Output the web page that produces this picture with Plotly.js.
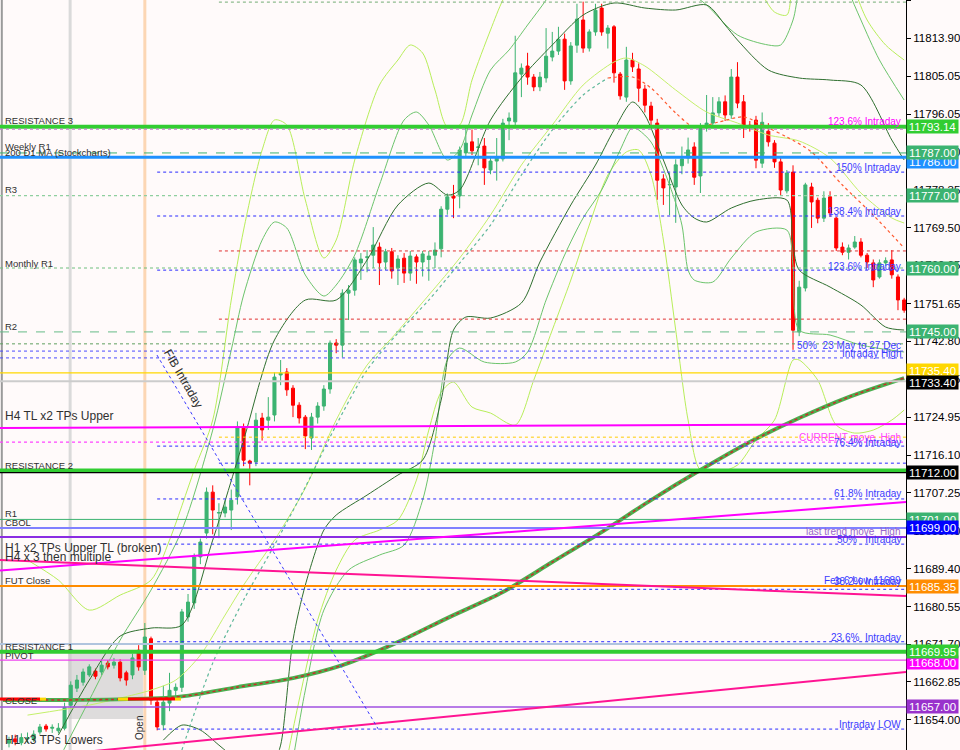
<!DOCTYPE html>
<html><head><meta charset="utf-8">
<script src="https://cdn.plot.ly/plotly-3.0.1.min.js"></script>
<style>html,body{margin:0;padding:0;background:#fffafa}#chart{width:960px;height:750px}</style>
</head><body><div id="chart"></div>
<script>
// ---------- candle data (bar index 2..147) ----------
const firstBar = 2;
const candleOpen = [11648.5,11649.5,11648.6,11649.5,11649.3,11651.1,11652.5,11652.0,11651.4,11652.0,11657.4,11661.4,11662.8,11664.5,11665.4,11665.2,11667.3,11666.8,11667.5,11665.0,11664.5,11670.3,11665.6,11673.0,11658.1,11652.8,11657.9,11660.9,11661.6,11678.1,11681.4,11692.2,11697.8,11707.4,11702.5,11702.5,11703.2,11706.3,11722.4,11714.7,11714.5,11724.8,11724.3,11725.5,11734.9,11735.6,11731.8,11727.8,11725.0,11720.1,11725.0,11727.6,11731.6,11742.4,11741.9,11754.1,11754.8,11761.2,11762.5,11763.0,11764.9,11761.4,11763.8,11760.0,11762.3,11758.8,11762.6,11761.4,11762.0,11763.0,11764.5,11773.8,11776.9,11776.9,11787.0,11789.6,11788.3,11788.6,11783.0,11785.1,11785.6,11794.5,11794.3,11805.5,11807.4,11804.8,11802.5,11804.6,11809.5,11810.9,11813.7,11803.9,11812.3,11818.2,11811.6,11815.4,11821.0,11815.1,11816.6,11805.5,11800.1,11808.8,11806.7,11802.0,11798.0,11794.0,11780.9,11779.5,11779.0,11784.0,11785.8,11788.4,11781.6,11793.1,11794.0,11796.4,11799.0,11795.9,11804.8,11799.0,11793.5,11794.7,11784.6,11792.1,11789.3,11784.9,11778.1,11782.5,11745.0,11755.3,11779.0,11775.9,11771.7,11776.7,11771.7,11764.9,11763.7,11764.9,11766.1,11763.0,11761.2,11757.9,11761.2,11761.9,11757.9,11752.5];
const candleHigh = [11650.0,11650.5,11650.8,11651.0,11651.5,11653.0,11653.0,11652.9,11653.2,11658.0,11663.0,11664.5,11666.0,11667.0,11666.0,11668.0,11668.0,11668.5,11668.2,11665.5,11669.5,11671.5,11676.7,11673.5,11659.0,11662.0,11665.0,11662.5,11680.0,11683.5,11693.0,11696.5,11708.5,11709.0,11704.8,11705.5,11708.0,11724.0,11723.5,11715.0,11726.0,11726.0,11729.7,11735.5,11738.4,11736.5,11732.5,11728.5,11725.5,11726.0,11728.5,11732.5,11743.0,11743.3,11755.0,11756.0,11762.5,11763.5,11764.2,11769.6,11766.0,11764.5,11764.7,11763.0,11763.5,11764.0,11763.2,11764.0,11764.0,11766.0,11774.5,11777.5,11779.5,11788.5,11793.1,11792.5,11790.5,11790.5,11786.0,11790.5,11795.0,11796.5,11814.5,11808.0,11810.5,11805.5,11806.0,11816.3,11815.4,11816.6,11815.0,11813.0,11822.0,11822.5,11816.0,11822.0,11822.0,11817.0,11817.0,11806.0,11811.9,11810.5,11808.0,11803.0,11799.0,11795.0,11782.0,11782.3,11785.5,11788.5,11790.6,11789.5,11794.0,11800.6,11800.1,11800.1,11800.5,11806.7,11808.3,11800.6,11794.5,11795.7,11796.5,11794.0,11790.0,11786.0,11783.0,11784.1,11757.0,11780.0,11780.0,11776.5,11778.0,11778.0,11772.0,11766.0,11765.5,11767.5,11767.0,11763.5,11762.0,11762.0,11762.5,11764.2,11758.5,11753.0];
const candleLow = [11647.5,11648.0,11648.0,11648.5,11648.8,11650.5,11651.2,11650.9,11650.8,11651.5,11656.5,11660.5,11662.0,11664.0,11663.5,11664.5,11665.8,11666.0,11663.0,11662.0,11663.5,11665.5,11664.5,11657.5,11651.5,11651.5,11656.0,11659.5,11660.5,11677.0,11680.0,11690.5,11696.5,11697.5,11696.6,11701.5,11698.5,11704.5,11713.5,11709.0,11713.5,11719.5,11722.0,11724.0,11732.5,11730.0,11725.0,11723.5,11717.5,11717.3,11723.5,11726.5,11730.5,11740.0,11739.0,11747.8,11753.5,11757.2,11759.0,11760.0,11756.0,11759.5,11757.5,11756.0,11756.5,11757.0,11756.3,11758.0,11757.0,11760.0,11762.5,11772.5,11771.7,11774.0,11786.0,11786.5,11784.1,11779.5,11782.0,11780.5,11785.0,11790.0,11793.5,11800.1,11803.0,11801.5,11801.5,11803.5,11808.5,11810.0,11801.8,11803.0,11810.5,11810.5,11810.8,11814.5,11814.5,11811.5,11803.5,11799.5,11799.0,11806.0,11799.0,11796.5,11793.0,11776.0,11774.8,11772.4,11770.6,11782.0,11784.5,11779.5,11777.6,11792.0,11793.0,11795.5,11794.5,11795.0,11797.5,11790.5,11792.0,11783.4,11783.5,11788.5,11783.5,11777.0,11777.5,11740.8,11744.0,11754.5,11769.4,11770.5,11770.8,11772.0,11764.0,11763.0,11762.0,11764.5,11762.5,11760.0,11755.5,11757.5,11760.5,11757.5,11750.1,11749.5];
const candleClose = [11649.3,11648.8,11649.8,11649.7,11650.6,11652.3,11651.8,11652.2,11652.0,11656.9,11662.1,11663.3,11665.2,11666.4,11664.2,11666.8,11666.4,11667.5,11663.8,11663.3,11668.5,11666.4,11673.4,11658.6,11652.3,11658.1,11660.9,11661.6,11679.3,11681.6,11692.2,11695.7,11707.4,11703.2,11702.6,11703.9,11705.5,11722.7,11714.9,11714.2,11724.3,11722.0,11725.0,11734.4,11735.3,11731.4,11727.8,11724.8,11720.6,11725.0,11727.6,11731.6,11742.4,11741.9,11754.1,11754.8,11761.9,11762.1,11762.6,11765.4,11761.2,11763.8,11759.3,11762.1,11758.8,11762.8,11761.4,11763.3,11762.8,11764.2,11773.8,11776.7,11776.4,11787.7,11789.3,11787.5,11788.4,11783.5,11785.1,11786.0,11794.0,11795.2,11805.8,11806.9,11804.8,11802.5,11804.8,11809.7,11810.9,11813.7,11803.9,11812.1,11818.4,11811.6,11815.4,11820.5,11815.4,11816.3,11805.8,11800.4,11808.8,11807.2,11802.2,11798.2,11794.7,11780.6,11778.8,11779.6,11784.2,11785.6,11787.7,11781.3,11792.8,11794.0,11796.4,11799.0,11795.9,11804.8,11798.7,11793.1,11793.0,11785.3,11794.2,11789.6,11784.9,11778.3,11782.3,11745.4,11755.5,11779.5,11775.5,11771.7,11776.4,11772.9,11764.7,11763.7,11764.7,11766.1,11763.0,11761.4,11757.2,11761.2,11761.7,11758.4,11752.5,11750.1];

// ---------- indicator bands (bar index, price) ----------
const dgUpperBar = [10,15,20,25,30,35,40,45,50,55,60,65,70,73,75,80,85,90,95,100,105,110,115,118,120,125,130,135,140,145,147];
const dgUpper = [11650.39,11663.29,11673.62,11675.50,11676.20,11696.15,11719.62,11743.09,11752.48,11752.48,11761.87,11774.78,11779.94,11777.12,11778.30,11794.73,11804.58,11812.33,11819.37,11822.19,11821.01,11820.54,11821.72,11817.02,11813.50,11806.46,11804.58,11804.11,11802.94,11790.03,11785.34];
const dgLowerBar = [27,30,33,36,39,42,45,46,48,50,53,55,60,65,69,72,74,76,80,85,88,93,97,100,103,105,108,111,113,115,119,123,128,129,130,135,140,144,147];
const dgLower = [11649.21,11652.73,11651.56,11648.04,11644.52,11642.17,11644.52,11648.04,11672.68,11685.59,11698.50,11702.02,11706.71,11711.41,11714.93,11729.01,11745.44,11748.49,11748.26,11751.78,11761.40,11774.78,11784.16,11792.38,11798.95,11795.90,11785.34,11774.78,11771.73,11770.79,11774.07,11775.95,11775.95,11765.39,11759.52,11755.53,11751.31,11746.14,11745.44];
const mgUpperBar = [10,15,20,25,30,35,38,40,43,45,47,50,53,55,58,62,66,68,70,73,75,77,80,83,86,89,92,110,112,115,120,125,127,129,130,132,137,138,140,143,147];
const mgUpper = [11644.52,11658.60,11672.68,11684.42,11698.50,11721.97,11740.74,11753.65,11766.56,11770.79,11769.38,11758.35,11753.42,11756.00,11763.04,11779.47,11794.73,11796.60,11793.55,11785.34,11787.68,11795.90,11806.46,11811.15,11817.02,11822.89,11829.93,11829.93,11825.24,11821.72,11814.68,11812.33,11812.33,11818.20,11825.24,11832.28,11832.28,11825.24,11818.20,11808.81,11799.42];
const mgLowerBar = [48,50,53,57,62,66,69,71,73,75,79,84,86,89,92,95,98,101,103,104,106,109,111,112,113,116,119,123,128,129,130,135,140,147];
const mgLower = [11644.52,11660.95,11679.72,11689.11,11692.63,11694.98,11705.54,11719.62,11738.40,11741.21,11737.93,11737.93,11740.28,11752.48,11763.04,11771.73,11778.30,11787.68,11793.08,11792.38,11789.56,11779.47,11770.08,11759.52,11757.17,11756.70,11762.34,11768.44,11768.91,11760.69,11745.44,11744.27,11741.92,11740.28];
const lgUpperBar = [5,10,15,20,25,28,32,35,38,40,43,45,47,50,53,55,58,62,65,67,69,71,73,75,77,80,82,84,100,120,124,126,128,129,131,137,139,141,144,147];
const lgUpper = [11691.46,11686.76,11679.72,11683.24,11686.76,11696.15,11712.58,11724.32,11752.48,11768.91,11787.68,11794.73,11793.55,11775.95,11762.34,11766.56,11785.34,11802.94,11808.81,11812.33,11810.45,11801.77,11793.08,11793.55,11804.11,11815.85,11822.89,11827.58,11832.28,11832.28,11824.06,11820.07,11819.37,11827.58,11834.63,11834.63,11825.24,11818.20,11812.33,11808.81];
const lgLowerBar = [47,49,52,55,58,62,65,68,70,72,74,77,80,84,87,90,93,96,99,102,104,106,108,110,112,114,117,120,123,126,129,130,133,136,139,142,145,147];
const lgLower = [11644.52,11658.60,11677.38,11689.11,11696.15,11698.50,11700.85,11710.23,11721.97,11730.89,11733.23,11727.37,11725.96,11723.14,11733.70,11745.44,11757.17,11770.08,11781.82,11787.22,11787.68,11781.82,11766.56,11745.44,11724.32,11712.58,11712.11,11713.75,11719.62,11724.32,11738.40,11738.40,11733.70,11723.14,11721.26,11721.97,11724.32,11726.66];
const midBar = [5,15,20,25,29,33,37,40,45,50,55,60,64,70,75,80,85,90,95,100,102,105,110,115,120,125,130,135,140,145,147];
const midLine = [11655.08,11657.43,11659.07,11660.95,11663.29,11669.16,11678.55,11685.59,11696.15,11708.36,11724.32,11737.22,11743.56,11753.65,11762.34,11772.43,11784.16,11793.55,11802.94,11808.34,11809.28,11807.40,11801.77,11796.60,11794.02,11791.21,11789.80,11785.81,11777.59,11771.73,11770.55];
const dotUpBar = [30,35,40,45,50,55,60,65,70,75,80,85,90,95,99];
const dotUp = [11646.86,11667.28,11682.07,11694.98,11708.59,11723.14,11736.05,11744.73,11752.48,11761.16,11770.08,11781.82,11792.38,11800.59,11804.58];
const dotDownBar = [99,103,106,110,113,117,121,125,128,132,137,142,147];
const dotDown = [11804.58,11804.82,11802.24,11796.37,11793.08,11794.26,11795.43,11792.85,11790.74,11787.22,11779.47,11772.40,11764.68];
const maBar = [1,29,39,48,56,65,73,82,90,98,106,114,122,130,138,147];
const maLine = [11658.60,11659.30,11661.65,11663.76,11666.81,11672.21,11677.85,11683.95,11690.99,11698.03,11705.54,11712.58,11719.15,11724.79,11729.71,11734.17];

// ---------- horizontal levels ----------
const levelPrice = [11822.4,11793.14,11792.6,11787.0,11786.0,11782.5,11777.0,11772.2,11764.0,11760.0,11759.5,11748.0,11745.0,11742.2,11740.5,11738.9,11735.4,11733.4,11720.3,11719.15,11718.2,11714.2,11712.5,11712.0,11705.8,11701.0,11699.0,11696.85,11695.2,11685.35,11684.6,11672.3,11671.75,11669.95,11668.0,11657.0,11651.8];
const levelStyle = [
 ['#8fbc8f',1.2,'dot',36],['#32cd32',4,'solid',null],['#c080c8',1.2,'dot',null],['#3cb371',1,'dash',null],['#1e90ff',3,'solid',null],
 ['#2a2aff',1,'dot',26],['#8fcf9f',1.2,'dot',null],['#2a2aff',1,'dot',26],['#e03030',1,'dot',36],['#6fbf7f',1,'dot',null],
 ['#2a2aff',1,'dot',26],['#e03030',1,'dot',36],['#66bb88',1,'dash',null],['#5f9f5f',1,'dot',null],['#4a4aff',1,'dot',null],
 ['#4a4aff',1,'dot',null],['#ffd700',1.2,'solid',null],['#cccccc',2,'solid',null],['#ffcc00',1,'dot',36],['#ff44ff',1.2,'dot',null],
 ['#2a2aff',1,'dot',26],['#2a2aff',1,'dot',36],['#32cd32',4,'solid',null],['#000000',1.2,'solid',null],['#2a2aff',1,'dot',26],
 ['#3cb371',1,'solid',null],['#8080ff',2,'solid',null],['#8a2be2',2,'solid',null],['#2a2aff',1,'dot',26],['#ff8c00',2,'solid',null],
 ['#2a2aff',1,'dot',26],['#2a2aff',1,'dot',26],['#b0c4de',2,'solid',null],['#32cd32',4,'solid',null],['#ee44ee',1.2,'solid',null],
 ['#a050e0',1.5,'solid',null],['#2a2aff',1,'dot',26]
];
// trend lines: [price at left edge, price at right edge]
const trendLeft = [11722.44,11689.0,11691.46,11644.5];
const trendRight = [11723.38,11705.07,11683.0,11665.2];
const trendColor = ['#ff00ff','#ff00ff','#ff1493','#ff1493'];
// fib diagonal
const fibBar = [25.97,62.1];
const fibPrice = [11739.57,11651.09];
// "CLOSE" line segments (pixel x ranges) and colours
const closePrice = 11658.83;
const closeSegX = [[0,40],[40,46],[118,128],[128,175],[175,181]];
const closeSegColor = ['#ff0000','#ffd700','#ffd700','#ff0000','#ffd700'];

// right-axis price boxes
const boxPrice = [11793.14,11786.00,11787.00,11777.00,11760.00,11745.00,11735.40,11733.40,11712.00,11701.00,11699.00,11685.35,11668.00,11669.95,11657.00];
const boxColor = ['#32cd32','#1e90ff','#3cb371','#3cb371','#3cb371','#3cb371','#ffd700','#000000','#000000','#3cb371','#0000ff','#ff8c00','#ff00ff','#32cd32','#9932cc'];
const boxShift = [0,-4,0,0,0,0,2,-1,0,0,0,0,-2,0,0];

const tickVals = [11822.75,11813.90,11805.05,11796.05,11787.20,11778.35,11769.50,11760.65,11751.65,11742.80,11733.95,11724.95,11716.10,11707.25,11698.40,11689.40,11680.55,11671.70,11662.85,11654.00];

// left labels [text, ypx, size]
const leftLabels = [['RESISTANCE 3',120,9.5],['Weekly R1',146,9.5],['200 D1 MA (Stockcharts)',153,9.5],['R3',189,9.5],['Monthly R1',263,9.5],['R2',326,9.5],['H4 TL x2 TPs Upper',416,12],['RESISTANCE 2',465,9.5],['R1',513,9.5],['CBOL',522,9.5],['H1 x2 TPs Upper TL (broken)',548,12],['H4 x 3 then multiple',557,12],['FUT Close',580,9.5],['RESISTANCE 1',646,9.5],['PIVOT',655,9.5],['CLOSE',700,9.5],['H1 x3 TPs Lowers',740,12]];
const rightLabels = [['123.6% Intraday',122,'#ff00ff'],['150% Intraday',167,'#3a3aff'],['138.4% Intraday',211,'#3a3aff'],['123.6% Intraday',266,'#3a3aff'],['50%  23 May to 27 Dec',345,'#3a3aff'],['Intraday High',353,'#3a3aff'],['CURRENT move  High',437,'#ff44ff'],['76.4% Intraday',442,'#3a3aff'],['61.8% Intraday',494,'#3a3aff'],['last trend move  High',531,'#9966cc'],['50%   Intraday',539,'#3a3aff'],['Feb 6 Low 11689',580,'#3a3aff'],['38.2% Intraday',581,'#3a3aff'],['23.6%  Intraday',637,'#3a3aff'],['Intraday LOW',724,'#3a3aff']];

// ---------- build ----------
const PW = 906, PH = 750;
const barX = candleOpen.map((_, i) => firstBar + i);
function band(x, y, color, width, dash) {
  return {type:'scatter', mode:'lines', x:x, y:y, line:{color:color, width:width, dash:dash||'solid', shape:'spline', smoothing:0.8}, hoverinfo:'skip', showlegend:false};
}
const traces = [
  band(lgUpperBar, lgUpper, '#b8ee5a', 1),
  band(lgLowerBar, lgLower, '#b8ee5a', 1),
  band(mgUpperBar, mgUpper, '#6cc46c', 1),
  band(mgLowerBar, mgLower, '#6cc46c', 1),
  band(dgUpperBar, dgUpper, '#2f6f2f', 1),
  band(dgLowerBar, dgLower, '#2f6f2f', 1),
  band(midBar, midLine, '#c4f06a', 1),
  band(dotUpBar, dotUp, '#5fb89a', 1.2, 'dot'),
  band(dotDownBar, dotDown, '#ff5a30', 1.2, 'dot'),
  band(maBar, maLine, '#4caf50', 4),
  band(maBar, maLine, '#cc2a2a', 1.5, 'dot'),
  {type:'candlestick', x:barX, open:candleOpen, high:candleHigh, low:candleLow, close:candleClose,
   increasing:{line:{color:'#3cb371', width:1}, fillcolor:'#3cb371'},
   decreasing:{line:{color:'#ff0000', width:1}, fillcolor:'#ff0000'},
   whiskerwidth:0, hoverinfo:'skip', showlegend:false}
];

const shapes = [];
shapes.push({type:'rect', xref:'x', yref:'y', x0:11.55, x1:23.7, y0:11654.14, y1:11669.63, fillcolor:'rgba(200,200,200,0.6)', line:{width:0}, layer:'below'});
shapes.push({type:'line', xref:'x', yref:'paper', x0:11.9, x1:11.9, y0:0, y1:1, line:{color:'#dadada', width:3}, layer:'below'});
shapes.push({type:'line', xref:'x', yref:'paper', x0:24.0, x1:24.0, y0:0, y1:1, line:{color:'#fcd6b4', width:3}, layer:'below'});
shapes.push({type:'line', xref:'paper', yref:'paper', x0:0.002, x1:0.002, y0:0, y1:1, line:{color:'#9a9a9a', width:2}});
levelPrice.forEach((p, i) => {
  const s = levelStyle[i];
  if (s[3] === null) shapes.push({type:'line', xref:'paper', yref:'y', x0:0, x1:1, y0:p, y1:p, line:{color:s[0], width:s[1], dash:s[2]}});
  else shapes.push({type:'line', xref:'x', yref:'y', x0:s[3], x1:147.3, y0:p, y1:p, line:{color:s[0], width:s[1], dash:s[2]}});
});
trendLeft.forEach((p, i) => shapes.push({type:'line', xref:'paper', yref:'y', x0:0, x1:1, y0:p, y1:trendRight[i], line:{color:trendColor[i], width:2}}));
shapes.push({type:'line', xref:'x', yref:'y', x0:fibBar[0], x1:fibBar[1], y0:fibPrice[0], y1:fibPrice[1], line:{color:'#3a3aff', width:1, dash:'dot'}});
closeSegX.forEach((s, i) => shapes.push({type:'line', xref:'paper', yref:'y', x0:s[0]/PW, x1:s[1]/PW, y0:closePrice, y1:closePrice, line:{color:closeSegColor[i], width:3}}));

const annotations = [];
leftLabels.forEach(l => annotations.push({xref:'paper', yref:'paper', x:3/PW, y:1 - l[1]/PH, xanchor:'left', yanchor:'middle', text:l[0], showarrow:false, font:{family:'Liberation Sans, Arial', size:l[2], color:'#303030'}}));
rightLabels.forEach(l => annotations.push({xref:'paper', yref:'paper', x:903/PW, y:1 - l[1]/PH, xanchor:'right', yanchor:'middle', text:l[0], showarrow:false, font:{family:'Liberation Sans, Arial', size:10, color:l[2]}}));
annotations.push({xref:'paper', yref:'paper', x:183/PW, y:1 - 378/PH, xanchor:'center', yanchor:'middle', text:'FIB Intraday', textangle:60, showarrow:false, font:{family:'Liberation Sans, Arial', size:12, color:'#303030'}});
annotations.push({xref:'paper', yref:'paper', x:139/PW, y:1 - 728/PH, xanchor:'center', yanchor:'middle', text:'Open', textangle:-90, showarrow:false, font:{family:'Liberation Sans, Arial', size:10, color:'#303030'}});
boxPrice.forEach((p, i) => annotations.push({xref:'paper', yref:'y', x:1, y:p, xanchor:'left', yanchor:'middle', yshift:boxShift[i], text:p.toFixed(2), showarrow:false, bgcolor:boxColor[i], borderpad:0, width:51, height:13, align:'center', font:{family:'Liberation Sans, Arial', size:11.5, color:'#ffffff'}}));

const layout = {
  width:960, height:750, margin:{l:0, r:54, t:0, b:0},
  paper_bgcolor:'#fffafa', plot_bgcolor:'#fffafa', showlegend:false,
  xaxis:{range:[0.54,147.3], visible:false, rangeslider:{visible:false}, fixedrange:true},
  yaxis:{range:[11646.89,11822.89], side:'right', tickvals:tickVals, tickformat:'.2f', ticks:'outside', ticklen:4, tickcolor:'#000',
         showline:true, linecolor:'#000', linewidth:1, showgrid:false, zeroline:false, fixedrange:true,
         tickfont:{family:'Liberation Sans, Arial', size:11.5, color:'#000'}},
  shapes:shapes, annotations:annotations
};
Plotly.newPlot('chart', traces, layout, {staticPlot:true, displayModeBar:false});
</script></body></html>
